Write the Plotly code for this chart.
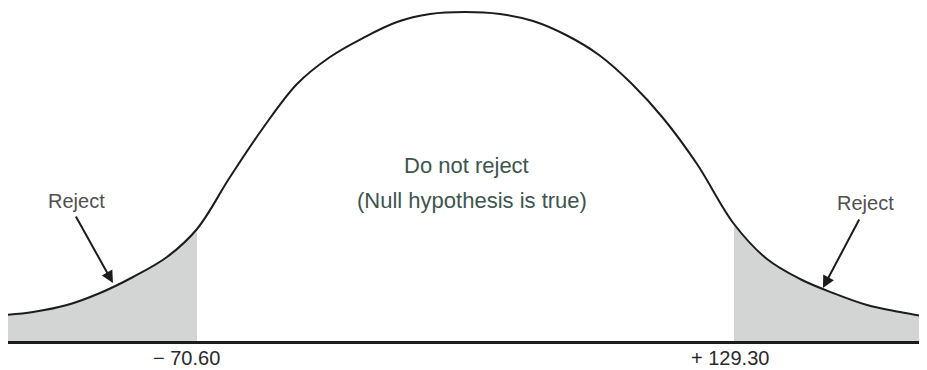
import plotly.graph_objects as go

# ---- data ----
# bell curve (x in data units, height above the axis)
curve_x = [-142.07, -131.65, -118.99, -106.71, -94.42, -81.77, -70.60, -58.31, -46.03,
           -33.37, -21.09, -8.81, 3.85, 16.14, 29.16, 42.19, 54.48, 66.76, 79.05,
           91.33, 102.87, 115.53, 129.30, 141.58, 153.87, 166.15, 178.81, 191.09, 201.14]
curve_y = [26, 29, 36, 48, 64, 84, 112, 164, 213,
           257, 284, 303, 319, 327, 329, 327, 320, 306, 286,
           257, 223, 177, 117, 82, 62, 48, 36, 29, 24]

CRIT_LO = -70.60   # lower critical value
CRIT_HI = 129.30   # upper critical value
MEAN = 29.35

tick_vals = [CRIT_LO, CRIT_HI]
tick_text = ["\u2212 70.60", "+ 129.30"]

center_lines = ["Do not reject", "(Null hypothesis is true)"]
reject_label = "Reject"

# arrow positions (tail -> tip) and label positions, in data units
left_tail, left_tip = (-116.0, 126.0), (-101.9, 58.0)
right_tail, right_tip = (176.2, 123.0), (162.4, 53.0)
left_label_pos = (-115.3, 140.0)
right_label_pos = (178.4, 138.0)

X_RANGE = [-140.96, 201.14]
Y_RANGE = [0, 333]

fig = go.Figure()

shade = "#d3d5d5"
lo = [(a, b) for a, b in zip(curve_x, curve_y) if a <= CRIT_LO]
hi = [(a, b) for a, b in zip(curve_x, curve_y) if a >= CRIT_HI]
for pts in (lo, hi):
    fig.add_trace(go.Scatter(x=[p[0] for p in pts], y=[p[1] for p in pts], mode="lines",
                             line=dict(width=0, color=shade, shape="spline", smoothing=1.0),
                             fill="tozeroy", fillcolor=shade, hoverinfo="skip", showlegend=False))

fig.add_trace(go.Scatter(x=curve_x, y=curve_y, mode="lines",
                         line=dict(color="#1c1c1c", width=2, shape="spline", smoothing=1.0),
                         hoverinfo="skip", showlegend=False))

FONT = "Liberation Sans, Arial, Helvetica, sans-serif"
annotations = []
shifts = [-11, -4]
for v, t, s in zip(tick_vals, tick_text, shifts):
    annotations.append(dict(x=v, y=0, xref="x", yref="y", text=t, showarrow=False,
                            xshift=s, yshift=-17, yanchor="middle",
                            font=dict(family=FONT, size=20, color="#2a2a2a")))
annotations.append(dict(x=MEAN, y=176, xref="x", yref="y", text=center_lines[0], showarrow=False,
                        xshift=1, font=dict(family=FONT, size=22, color="#3e554e")))
annotations.append(dict(x=MEAN, y=141, xref="x", yref="y", text=center_lines[1], showarrow=False,
                        xshift=6, font=dict(family=FONT, size=22, color="#3e554e")))
for pos in (left_label_pos, right_label_pos):
    annotations.append(dict(x=pos[0], y=pos[1], xref="x", yref="y", text=reject_label, showarrow=False,
                            font=dict(family=FONT, size=20, color="#505050")))
for tail, tip in ((left_tail, left_tip), (right_tail, right_tip)):
    annotations.append(dict(x=tip[0], y=tip[1], ax=tail[0], ay=tail[1], xref="x", yref="y",
                            axref="x", ayref="y", text="", showarrow=True, arrowhead=2,
                            arrowsize=1.2, arrowwidth=2, arrowcolor="#1c1c1c"))

# the page places the figure 8px in from the top-left, so the figure is 8px smaller
fig.update_layout(
    width=919, height=362,
    margin=dict(l=0, r=0, t=0, b=29),
    paper_bgcolor="white", plot_bgcolor="white",
    xaxis=dict(range=X_RANGE, showgrid=False, zeroline=False, showticklabels=False,
               ticks="", showline=True, linecolor="#1c1c1c", linewidth=2.5, fixedrange=True),
    yaxis=dict(range=Y_RANGE, showgrid=False, zeroline=False, showticklabels=False,
               ticks="", showline=False, fixedrange=True),
    annotations=annotations,
    showlegend=False,
)

fig.write_html("out.html")
